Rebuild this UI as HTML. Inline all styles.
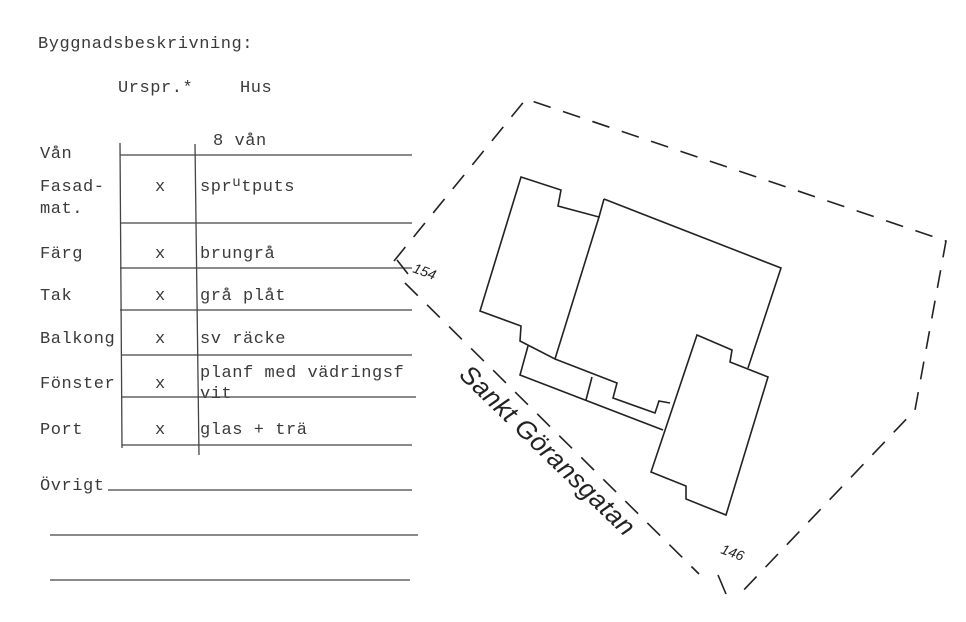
<!DOCTYPE html>
<html><head><meta charset="utf-8"><style>
html,body{margin:0;padding:0;background:#fff;}
svg{display:block}
text{font-family:"Liberation Mono",monospace;font-size:17px;letter-spacing:0.55px;fill:#3a3a3a;}
.h{font-family:"Liberation Sans",sans-serif;font-style:italic;fill:#222;letter-spacing:0;}
</style></head><body>
<svg width="966" height="622" viewBox="0 0 966 622" xmlns="http://www.w3.org/2000/svg">
<rect width="966" height="622" fill="#fff"/>
<text x="38" y="48">Byggnadsbeskrivning:</text>
<text x="118" y="92">Urspr.*</text>
<text x="240" y="92">Hus</text>
<text x="213" y="145">8 vån</text>
<text x="40" y="158">Vån</text>
<text x="40" y="191">Fasad-</text>
<text x="40" y="213">mat.</text>
<text x="40" y="258">Färg</text>
<text x="40" y="300">Tak</text>
<text x="40" y="343">Balkong</text>
<text x="40" y="388">Fönster</text>
<text x="40" y="434">Port</text>
<text x="40" y="490">Övrigt</text>
<g>
<text x="155" y="191">x</text><text x="155" y="258">x</text><text x="155" y="300">x</text>
<text x="155" y="343">x</text><text x="155" y="388">x</text><text x="155" y="434">x</text>
</g>
<text x="200" y="191">spr<tspan dy="-5" style="font-size:14px">u</tspan><tspan dy="5">tputs</tspan></text>
<text x="200" y="258">brungrå</text>
<text x="200" y="300">grå plåt</text>
<text x="200" y="343">sv räcke</text>
<text x="200" y="377">planf med vädringsf</text>
<text x="200" y="398">vit</text>
<text x="200" y="434">glas + trä</text>
<g stroke="#444" stroke-width="1.3" fill="none">
<line x1="120" y1="143" x2="122" y2="448"/>
<line x1="195" y1="144" x2="199" y2="455"/>
<line x1="120" y1="155" x2="412" y2="155"/>
<line x1="120" y1="223" x2="412" y2="223"/>
<line x1="120" y1="268" x2="412" y2="268"/>
<line x1="120" y1="310" x2="412" y2="310"/>
<line x1="122" y1="355" x2="412" y2="355"/>
<line x1="122" y1="397" x2="416" y2="397"/>
<line x1="122" y1="445" x2="412" y2="445"/>
<line x1="108" y1="490" x2="412" y2="490"/>
<line x1="50" y1="535" x2="418" y2="535"/>
<line x1="50" y1="580" x2="410" y2="580"/>
</g>
<g stroke="#222" stroke-width="1.6" fill="none" stroke-dasharray="18,13">
<polyline points="394,261 526,99 946,241 915,410 739,595"/>
<line x1="405" y1="283" x2="699" y2="574"/>
</g>
<g stroke="#222" stroke-width="1.6" fill="none">
<line x1="397" y1="260" x2="408" y2="274"/>
<line x1="718" y1="575" x2="726" y2="594"/>
<polygon points="521,177 561,190 558,206 599,217 555,359 520,341 521,326 480,311"/>
<polyline points="604,199 781,268 748,368"/>
<line x1="599" y1="217" x2="604" y2="199"/>
<polyline points="555,359 617,383 613,398 655,413 659,401 670,403"/>
<polyline points="528,346 520,375 663,430"/>
<line x1="592" y1="377" x2="586" y2="400"/>
<polygon points="697,335 732,350 730,362 768,377 726,515 686,499 686,486 651,472"/>
</g>
<text class="h" style="font-size:14px" transform="translate(412,272) rotate(20)">154</text>
<text class="h" style="font-size:14px" transform="translate(720,553) rotate(20)">146</text>
<text class="h" style="font-size:26px;letter-spacing:0.5px" transform="translate(458,376) rotate(44)">Sankt Göransgatan</text>
</svg>
</body></html>
